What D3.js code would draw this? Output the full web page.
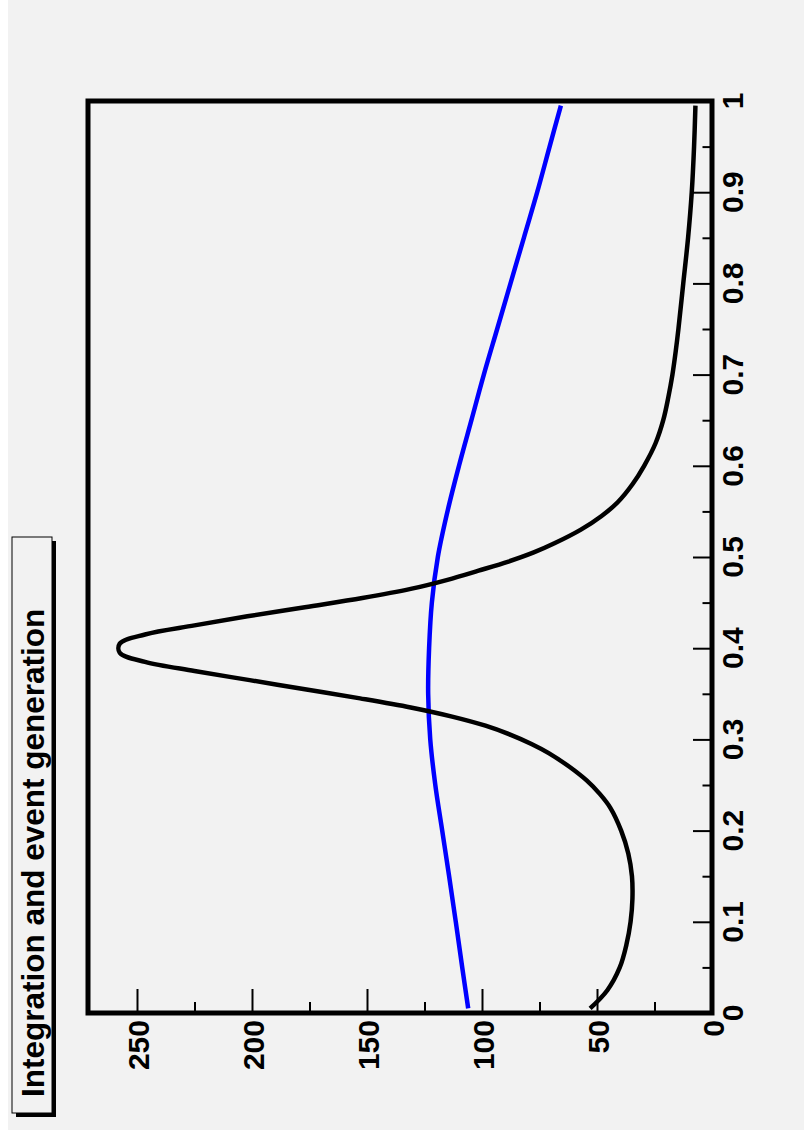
<!DOCTYPE html>
<html>
<head>
<meta charset="utf-8">
<script src="https://cdn.jsdelivr.net/npm/d3@7"></script>
<style>
  html, body { margin: 0; padding: 0; background: #fff; }
  svg { display: block; }
  text { font-family: "Liberation Sans", Arial, sans-serif; font-weight: bold; fill: #000; }
</style>
</head>
<body>
<svg id="chart" width="804" height="1137"></svg>
<script>
// the plot is turned on its side: x (0..1) runs up the right edge,
// the function value runs right-to-left along the bottom edge
const title = 'Integration and event generation';

const xMajor = [0, 0.1, 0.2, 0.3, 0.4, 0.5, 0.6, 0.7, 0.8, 0.9, 1];
const xMinor = [0.05, 0.15, 0.25, 0.35, 0.45, 0.55, 0.65, 0.75, 0.85, 0.95];
const vMajor = [0, 50, 100, 150, 200, 250];
const vMinor = [25, 75, 125, 175, 225];

// black curve (peak + background)
const blackX = [0.005, 0.025, 0.05, 0.075, 0.1, 0.125, 0.15, 0.175, 0.2, 0.225, 0.24, 0.255, 0.27, 0.285, 0.295,
  0.305, 0.315, 0.325, 0.335, 0.345, 0.355, 0.365, 0.375, 0.385, 0.395, 0.405, 0.415, 0.425, 0.435, 0.445,
  0.455, 0.465, 0.475, 0.485, 0.495, 0.505, 0.515, 0.53, 0.545, 0.56, 0.58, 0.6, 0.625, 0.65, 0.675, 0.7,
  0.725, 0.75, 0.8, 0.85, 0.9, 0.95, 0.995];
const blackY = [53, 45.5, 40.1, 37.2, 35.4, 34.6, 34.8, 36.4, 39.5, 44.2, 48.7, 54.5, 62, 71, 78.5,
  87.5, 98.5, 113, 131, 153, 177, 201, 225, 246.5, 257.5, 257.5, 246.5, 225, 202, 177,
  152, 131, 115, 101.5, 88.5, 77.5, 68.5, 57, 48, 41, 34.5, 29.5, 24.5, 21.2, 19, 17.2,
  15.8, 14.6, 12.5, 10.4, 8.8, 7.8, 7.2];

// blue curve
const blueX = [0.005, 0.05, 0.1, 0.15, 0.2, 0.25, 0.3, 0.35, 0.4, 0.45, 0.5, 0.55, 0.6, 0.65, 0.7,
  0.75, 0.8, 0.85, 0.9, 0.95, 0.995];
const blueY = [106, 108.6, 111.4, 114.3, 117.3, 120.3, 122.5, 123.4, 123, 121.8, 119.2, 115, 110, 104.6, 99.2,
  93.4, 87.6, 81.8, 76, 70.6, 65.7];

const vMax = 271.3;

const svg = d3.select('#chart');

// canvas
svg.append('rect').attr('x', 8).attr('y', 0).attr('width', 796).attr('height', 1130).attr('fill', '#f2f2f2');

const frame = { left: 88, right: 712, top: 101, bottom: 1013 };

const xScale = d3.scaleLinear().domain([0, 1]).range([frame.bottom, frame.top]);
const vScale = d3.scaleLinear().domain([0, vMax]).range([frame.right, frame.left]);

// title box with shadow
svg.append('rect').attr('x', 16).attr('y', 541).attr('width', 40).attr('height', 576).attr('fill', '#000');
svg.append('rect').attr('x', 12).attr('y', 537).attr('width', 40).attr('height', 576)
  .attr('fill', '#f2f2f2').attr('stroke', '#000').attr('stroke-width', 1);
svg.append('text')
  .attr('transform', 'translate(44,1097) rotate(-90)')
  .attr('text-anchor', 'start')
  .attr('font-size', 31.5)
  .text(title);

// ticks along the bottom (value axis)
const bottomMajor = svg.append('g').attr('transform', `translate(0,${frame.bottom})`)
  .call(d3.axisTop(vScale).tickValues(vMajor).tickSize(24).tickFormat(''));
const bottomMinor = svg.append('g').attr('transform', `translate(0,${frame.bottom})`)
  .call(d3.axisTop(vScale).tickValues(vMinor).tickSize(11).tickFormat(''));

// ticks along the right (x axis)
const rightMajor = svg.append('g').attr('transform', `translate(${frame.right},0)`)
  .call(d3.axisLeft(xScale).tickValues(xMajor).tickSize(19).tickFormat(''));
const rightMinor = svg.append('g').attr('transform', `translate(${frame.right},0)`)
  .call(d3.axisLeft(xScale).tickValues(xMinor).tickSize(9.5).tickFormat(''));

[bottomMajor, bottomMinor, rightMajor, rightMinor].forEach(g => {
  g.select('.domain').remove();
  g.selectAll('line').attr('stroke', '#000').attr('stroke-width', 2);
});

// tick labels
svg.append('g').selectAll('text')
  .data(vMajor)
  .join('text')
  .attr('transform', d => `translate(${vScale(d) + 12},1020) rotate(-90)`)
  .attr('text-anchor', 'end')
  .attr('font-size', 30)
  .text(d => d);

const fmt = d3.format('~g');
svg.append('g').selectAll('text')
  .data(xMajor)
  .join('text')
  .attr('transform', d => `translate(743,${xScale(d)}) rotate(-90)`)
  .attr('text-anchor', 'middle')
  .attr('font-size', 30)
  .text(d => fmt(d));

// curves
const line = d3.line()
  .x(d => vScale(d[1]))
  .y(d => xScale(d[0]))
  .curve(d3.curveCatmullRom.alpha(0.5));

svg.append('path')
  .datum(d3.zip(blueX, blueY))
  .attr('d', line)
  .attr('fill', 'none')
  .attr('stroke', '#0000ff')
  .attr('stroke-width', 4.5);

svg.append('path')
  .datum(d3.zip(blackX, blackY))
  .attr('d', line)
  .attr('fill', 'none')
  .attr('stroke', '#000')
  .attr('stroke-width', 4.5)
  .attr('stroke-linejoin', 'round');

// frame
svg.append('rect')
  .attr('x', frame.left).attr('y', frame.top)
  .attr('width', frame.right - frame.left).attr('height', frame.bottom - frame.top)
  .attr('fill', 'none').attr('stroke', '#000').attr('stroke-width', 5);
</script>
</body>
</html>
